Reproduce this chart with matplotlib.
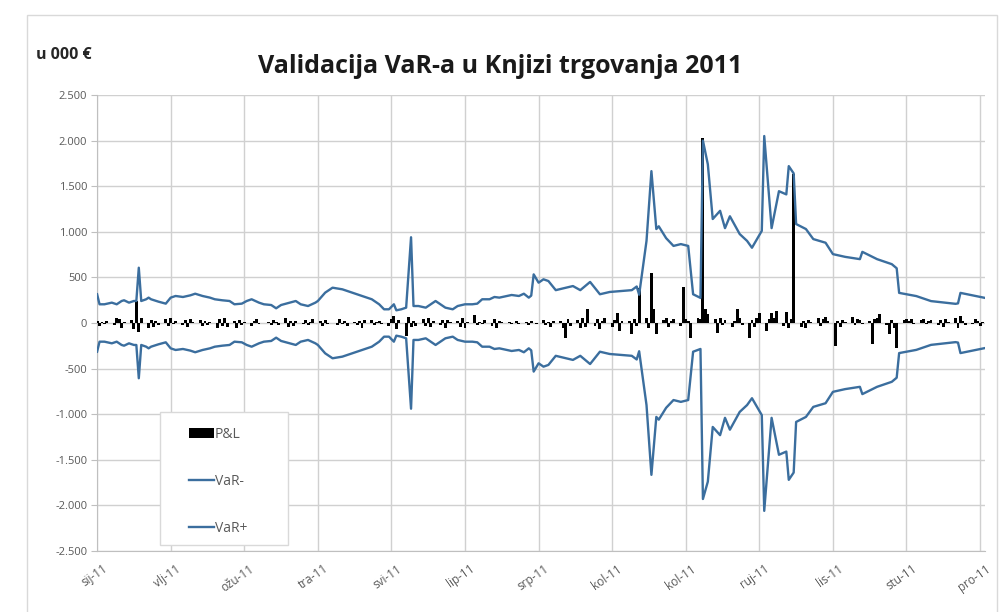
import numpy as np
import pandas as pd
import matplotlib
matplotlib.use("Agg")
import matplotlib.pyplot as plt
from matplotlib.patches import Patch, Rectangle
from matplotlib.lines import Line2D
from matplotlib.ticker import FuncFormatter
from matplotlib.transforms import ScaledTranslation

# VaR keypoints, x = day of year 2011
var_day = [3, 4, 6, 9, 11, 13, 14, 16, 18, 19,
           20, 21, 23, 24, 25, 28, 31, 33, 35, 38,
           41, 43, 46, 49, 51, 54, 57, 59, 62, 64,
           66, 69, 71, 74, 76, 78, 80, 84, 86, 89,
           92, 93, 96, 99, 103, 107, 111, 115, 118, 120,
           122, 124, 125, 127, 129, 131, 132, 134, 137, 139,
           141, 143, 145, 148, 150, 153, 156, 158, 160, 163,
           165, 167, 170, 172, 175, 177, 179, 180, 181, 183,
           185, 187, 190, 197, 200, 204, 208, 212, 221, 223,
           224, 227, 229, 231, 232, 235, 238, 241, 244, 246,
           249, 250, 252, 254, 257, 259, 261, 265, 268, 270,
           274, 275, 278, 281, 284, 285, 287, 288, 292, 295,
           300, 303, 308, 314, 315, 321, 327, 329, 330, 337,
           343, 353, 354, 355, 365]
var_plus = [315, 205, 205, 223, 205, 241, 249, 223, 241, 241,
            606, 241, 260, 278, 260, 234, 212, 278, 296, 285,
            303, 321, 296, 278, 260, 249, 241, 205, 212, 241,
            260, 223, 205, 197, 161, 197, 212, 241, 205, 186,
            223, 241, 333, 387, 369, 333, 296, 260, 205, 150,
            150, 205, 139, 150, 168, 940, 186, 186, 168, 205,
            241, 205, 168, 150, 186, 205, 205, 212, 260, 260,
            285, 278, 296, 307, 296, 321, 278, 300, 533, 442,
            479, 460, 360, 405, 360, 450, 315, 340, 360, 400,
            310, 900, 1665, 1030, 1060, 930, 845, 865, 845, 315,
            275, 2000, 1740, 1140, 1230, 1040, 1170, 975, 900, 825,
            1010, 2050, 1040, 1445, 1410, 1720, 1640, 1085, 1030, 920,
            880, 755, 725, 700, 780, 700, 645, 600, 330, 295,
            240, 210, 215, 330, 275]
var_minus = [-315, -205, -205, -223, -205, -241, -249, -223, -241, -241,
             -606, -241, -260, -278, -260, -234, -212, -278, -296, -285,
             -303, -321, -296, -278, -260, -249, -241, -205, -212, -241,
             -260, -223, -205, -197, -161, -197, -212, -241, -205, -186,
             -223, -241, -333, -387, -369, -333, -296, -260, -205, -150,
             -150, -205, -139, -150, -168, -940, -186, -186, -168, -205,
             -241, -205, -168, -150, -186, -205, -205, -212, -260, -260,
             -285, -278, -296, -307, -296, -321, -278, -300, -533, -442,
             -479, -460, -360, -405, -360, -450, -315, -340, -360, -400,
             -310, -900, -1665, -1030, -1060, -930, -845, -865, -845, -315,
             -285, -1930, -1740, -1140, -1230, -1040, -1170, -975, -900, -825,
             -1010, -2060, -1040, -1445, -1410, -1720, -1640, -1085, -1030, -920,
             -880, -755, -725, -700, -780, -700, -645, -600, -330, -295,
             -240, -210, -215, -330, -275]

# daily P&L, one value per business day (Mon-Fri), 52 weeks from 3 Jan 2011
pnl = [20, -30, 15, -10, 25,   -20, 60, 40, -50, 10,   35, -70, 240, -100, 55,   -60, 30, -45, 20, -25,
       40, -30, 55, -15, 20,   -25, 35, -40, 45, 15,   30, -35, 20, -20, 10,     -50, 45, -30, 60, -40,
       25, -55, 30, -20, 15,   -30, 20, 40, -15, 5,    15, -25, 35, 10, -20,     50, -40, 20, -30, 25,
       -15, 30, -20, 15, 45,   20, -35, 30, -10, 5,    -25, 40, -15, 20, -30,    10, -20, 25, -60, 35,
       30, -25, 15, 20, -10,   -35, 45, 80, -70, 30,   -140, 70, -40, 25, -30,   40, -30, 55, -45, 20,
       -20, 35, -50, 30, 15,   25, -40, 60, -55, 10,   85, -20, 15, -10, 30,     -30, 45, -60, 20, 10,
       15, -10, 5, 20, -15,    10, -25, 20, 5, -10,    30, -20, 15, -40, 25,     20, -60, -165, 40, -30,
       35, -50, 60, -45, 150,  -30, 40, -70, 25, 50,   -40, 30, 110, -90, 20,    25, -120, 40, -30, 385,
       60, -50, 550, 150, -120, 30, 50, -40, 20, 45,   -30, 390, 40, 25, -165,   60, 40, 2030, 150, 100,
       40, -110, 50, -20, 30,  -40, 25, 150, 60, -20,  -165, 30, -40, 50, 110,   -90, 40, 110, 60, 130,
       -30, 120, -60, 40, 1630, -40, 25, -50, 30, 15,  60, -30, 40, 70, 20,      -250, 20, -40, 30, 15,
       70, -20, 45, 30, -15,   25, -230, 40, 60, 100,  -20, -120, 30, -50, -270, 35, 40, 20, 45, -15,
       30, 40, -10, 25, 35,    -20, 30, -45, 40, 15,   60, -50, 80, 25, -20,     -10, 45, 20, -30, 15]

tick_labels = ["sij-11", "vlj-11", "ožu-11", "tra-11", "svi-11", "lip-11", "srp-11",
               "kol-11", "kol-11", "ruj-11", "lis-11", "stu-11", "pro-11"]


def draw_figure():
    plt.rcParams["font.family"] = ["Open Sans", "DejaVu Sans"]
    blue = "#3b6e9e"
    grid_c = "#d0d0d0"
    txt_c = "#595959"

    start = pd.Timestamp("2011-01-01")
    vx = start + pd.to_timedelta(np.array(var_day) - 1, unit="D")
    pnl_dates = pd.bdate_range("2011-01-03", periods=len(pnl))
    ticks = pd.Timestamp("2011-01-03") + pd.to_timedelta(np.arange(len(tick_labels)) * 30, unit="D")

    fig = plt.figure(figsize=(10.01, 6.12), dpi=100)
    ax = fig.add_axes([0.097, 0.0997, 0.887, 0.7451])

    # chart frame
    fig.patches.append(Rectangle((27 / 1001, -0.1), 970 / 1001, 1.1 - 15 / 612,
                                 transform=fig.transFigure, fill=False,
                                 edgecolor="#d9d9d9", linewidth=1))

    ax.bar(pnl_dates, pnl, width=1.2, color="black", zorder=3)
    ax.plot(vx, var_minus, color=blue, linewidth=1.7, zorder=4)
    ax.plot(vx, var_plus, color=blue, linewidth=1.7, zorder=4)

    ax.set_ylim(-2500, 2500)
    ax.set_yticks(np.arange(-2500, 2501, 500))
    ax.yaxis.set_major_formatter(FuncFormatter(lambda v, p: f"{int(v):,}".replace(",", ".")))
    ax.set_xlim(pd.Timestamp("2011-01-03"), pd.Timestamp("2011-12-31"))
    ax.set_xticks(ticks)
    ax.set_xticklabels(tick_labels, rotation=35, ha="right", rotation_mode="anchor")

    ax.grid(True, color=grid_c, linewidth=1)
    ax.set_axisbelow(True)
    for s in ["top", "right"]:
        ax.spines[s].set_visible(False)
    for s in ["left", "bottom"]:
        ax.spines[s].set_color("#bfbfbf")
    ax.tick_params(axis="y", labelsize=8, colors=txt_c, length=4, color="#bfbfbf", pad=3)
    ax.tick_params(axis="x", labelsize=8.5, colors=txt_c, length=0, pad=8)
    offset = ScaledTranslation(5 / 100, 0, fig.dpi_scale_trans)
    for t in ax.get_xticklabels():
        t.set_transform(t.get_transform() + offset)

    fig.text(0.5, 0.892, "Validacija VaR-a u Knjizi trgovanja 2011", ha="center", va="center",
             fontsize=18, fontweight="bold", color="#1a1a1a")
    fig.text(0.036, 0.91, "u 000 €", ha="left", va="center", fontsize=11.5,
             fontweight="bold", color="#262626")

    # legend box
    ax.add_patch(Rectangle((0.0709, 0.013), 0.1442, 0.292, transform=ax.transAxes,
                           facecolor="white", edgecolor="#d9d9d9", linewidth=1, zorder=5))
    handles = [Patch(facecolor="black", edgecolor="none"),
               Line2D([0], [0], color=blue, linewidth=1.7),
               Line2D([0], [0], color=blue, linewidth=1.7)]
    leg = ax.legend(handles, ["P&L", "VaR-", "VaR+"], loc="upper left",
                    bbox_to_anchor=(0.103, 0.272), frameon=False, fontsize=10,
                    labelspacing=2.3, handlelength=1.8, handletextpad=0.1,
                    borderpad=0, borderaxespad=0)
    leg.set_zorder(6)
    for t in leg.get_texts():
        t.set_color(txt_c)

    fig.savefig("out.png", dpi=100)


if __name__ == "__main__":
    draw_figure()
